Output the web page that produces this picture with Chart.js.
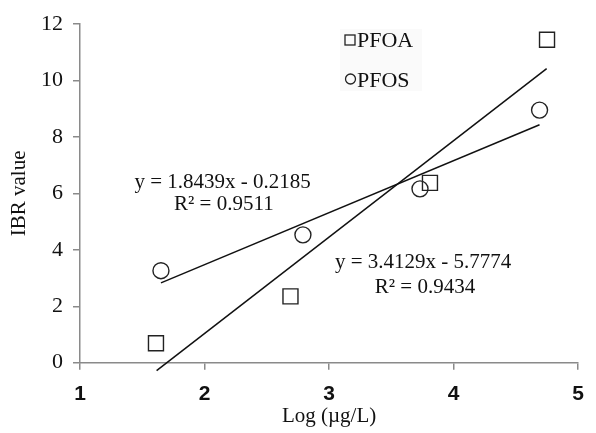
<!DOCTYPE html>
<html>
<head>
<meta charset="utf-8">
<script src="https://cdn.jsdelivr.net/npm/chart.js@4.4.1/dist/chart.umd.min.js"></script>
<style>
  html, body { margin: 0; padding: 0; background: #fff; }
  #wrap { width: 596px; height: 433px; position: relative; }
</style>
</head>
<body>
<div id="wrap"><canvas id="ibrChart"></canvas></div>
<script>
// values
const pfoaX = [1.61, 2.69, 3.81, 4.75];
const pfoaY = [0.69, 2.35, 6.37, 11.44];
const pfosX = [1.65, 2.79, 3.73, 4.69];
const pfosY = [3.26, 4.53, 6.16, 8.95];

// trendline end points (Excel linear fits)
const pfoaTrendX = [1.615, 4.747];
const pfoaTrendY = [-0.28, 10.42];
const pfosTrendX = [1.65, 4.69];
const pfosTrendY = [2.83, 8.43];

const seriesNames = ['PFOA', 'PFOS'];
const eqPFOS = ['y = 1.8439x - 0.2185', 'R\u00b2 = 0.9511'];
const eqPFOA = ['y = 3.4129x - 5.7774', 'R\u00b2 = 0.9434'];

const xTicks = [1, 2, 3, 4, 5];
const yTicks = [0, 2, 4, 6, 8, 10, 12];

const serif = '"Liberation Serif", "Times New Roman", serif';
const axisGray = '#8a8a8a';

function toPoints(xs, ys) {
    return xs.map((x, i) => ({ x: x, y: ys[i] }));
}

// legend + equations drawn on top of the plot
const labelsPlugin = {
    id: 'labels',
    afterDatasetsDraw(chart) {
        const ctx = chart.ctx;
        const xs = chart.scales.x;
        const ys = chart.scales.y;
        ctx.save();

        // legend box
        ctx.fillStyle = '#fafafa';
        ctx.fillRect(340, 29, 82, 62);
        ctx.strokeStyle = '#222';
        ctx.lineWidth = 1.3;
        ctx.strokeRect(345, 35, 10, 10);
        ctx.beginPath();
        ctx.arc(350.5, 79, 5, 0, Math.PI * 2);
        ctx.stroke();
        ctx.fillStyle = '#111';
        ctx.font = '22px ' + serif;
        ctx.textAlign = 'left';
        ctx.textBaseline = 'alphabetic';
        ctx.fillText(seriesNames[0], 357, 47);
        ctx.fillText(seriesNames[1], 357, 87);

        // regression labels, placed in data units
        ctx.font = '21px ' + serif;
        ctx.textAlign = 'center';
        ctx.fillText(eqPFOS[0], xs.getPixelForValue(2.145), ys.getPixelForValue(6.2));
        ctx.fillText(eqPFOS[1], xs.getPixelForValue(2.155), ys.getPixelForValue(5.42));
        ctx.fillText(eqPFOA[0], xs.getPixelForValue(3.755), ys.getPixelForValue(3.35));
        ctx.fillText(eqPFOA[1], xs.getPixelForValue(3.77), ys.getPixelForValue(2.48));
        ctx.restore();
    }
};

const ctx = document.getElementById('ibrChart').getContext('2d');
const chart = new Chart(ctx, {
    type: 'scatter',
    data: {
        datasets: [
            {
                label: 'PFOA trend',
                type: 'line',
                data: toPoints(pfoaTrendX, pfoaTrendY),
                borderColor: '#111',
                borderWidth: 1.5,
                pointRadius: 0,
                fill: false,
                clip: false
            },
            {
                label: 'PFOS trend',
                type: 'line',
                data: toPoints(pfosTrendX, pfosTrendY),
                borderColor: '#111',
                borderWidth: 1.5,
                pointRadius: 0,
                fill: false,
                clip: false
            },
            {
                label: seriesNames[0],
                data: toPoints(pfoaX, pfoaY),
                pointStyle: 'rect',
                pointRadius: 10.6,
                pointBackgroundColor: 'rgba(255,255,255,0)',
                pointBorderColor: '#222',
                pointBorderWidth: 1.4,
                clip: false
            },
            {
                label: seriesNames[1],
                data: toPoints(pfosX, pfosY),
                pointStyle: 'circle',
                pointRadius: 8,
                pointBackgroundColor: 'rgba(255,255,255,0)',
                pointBorderColor: '#222',
                pointBorderWidth: 1.4,
                clip: false
            }
        ]
    },
    options: {
        responsive: true,
        maintainAspectRatio: false,
        animation: false,
        layout: {
            padding: { left: 0, right: 6, top: 24, bottom: 0 }
        },
        plugins: {
            legend: { display: false },
            tooltip: { enabled: false }
        },
        scales: {
            x: {
                type: 'linear',
                min: 1,
                max: 5,
                afterBuildTicks: (scale) => {
                    scale.ticks = xTicks.map(v => ({ value: v }));
                },
                afterFit: (scale) => {
                    scale.height = 70.3;
                },
                grid: {
                    drawOnChartArea: false,
                    drawTicks: true,
                    tickLength: 7,
                    color: axisGray,
                    lineWidth: 1.5
                },
                border: { color: axisGray, width: 1.5 },
                ticks: {
                    padding: 12,
                    color: '#111',
                    font: { family: '"Liberation Sans", Arial, sans-serif', size: 21, weight: 'bold' }
                },
                title: {
                    display: true,
                    text: 'Log (\u00b5g/L)',
                    color: '#111',
                    padding: { top: 0, bottom: 4 },
                    font: { family: serif, size: 21 }
                }
            },
            y: {
                type: 'linear',
                min: 0,
                max: 12,
                afterBuildTicks: (scale) => {
                    scale.ticks = yTicks.map(v => ({ value: v }));
                },
                afterFit: (scale) => {
                    scale.width = 80;
                },
                grid: {
                    drawOnChartArea: false,
                    drawTicks: true,
                    tickLength: 7,
                    color: axisGray,
                    lineWidth: 1.5
                },
                border: { color: axisGray, width: 1.5 },
                ticks: {
                    padding: 10,
                    color: '#111',
                    font: { family: serif, size: 22 }
                },
                title: {
                    display: true,
                    text: 'IBR value',
                    color: '#111',
                    padding: { top: 7, bottom: 0 },
                    font: { family: serif, size: 21 }
                }
            }
        }
    },
    plugins: [labelsPlugin]
});
</script>
</body>
</html>
